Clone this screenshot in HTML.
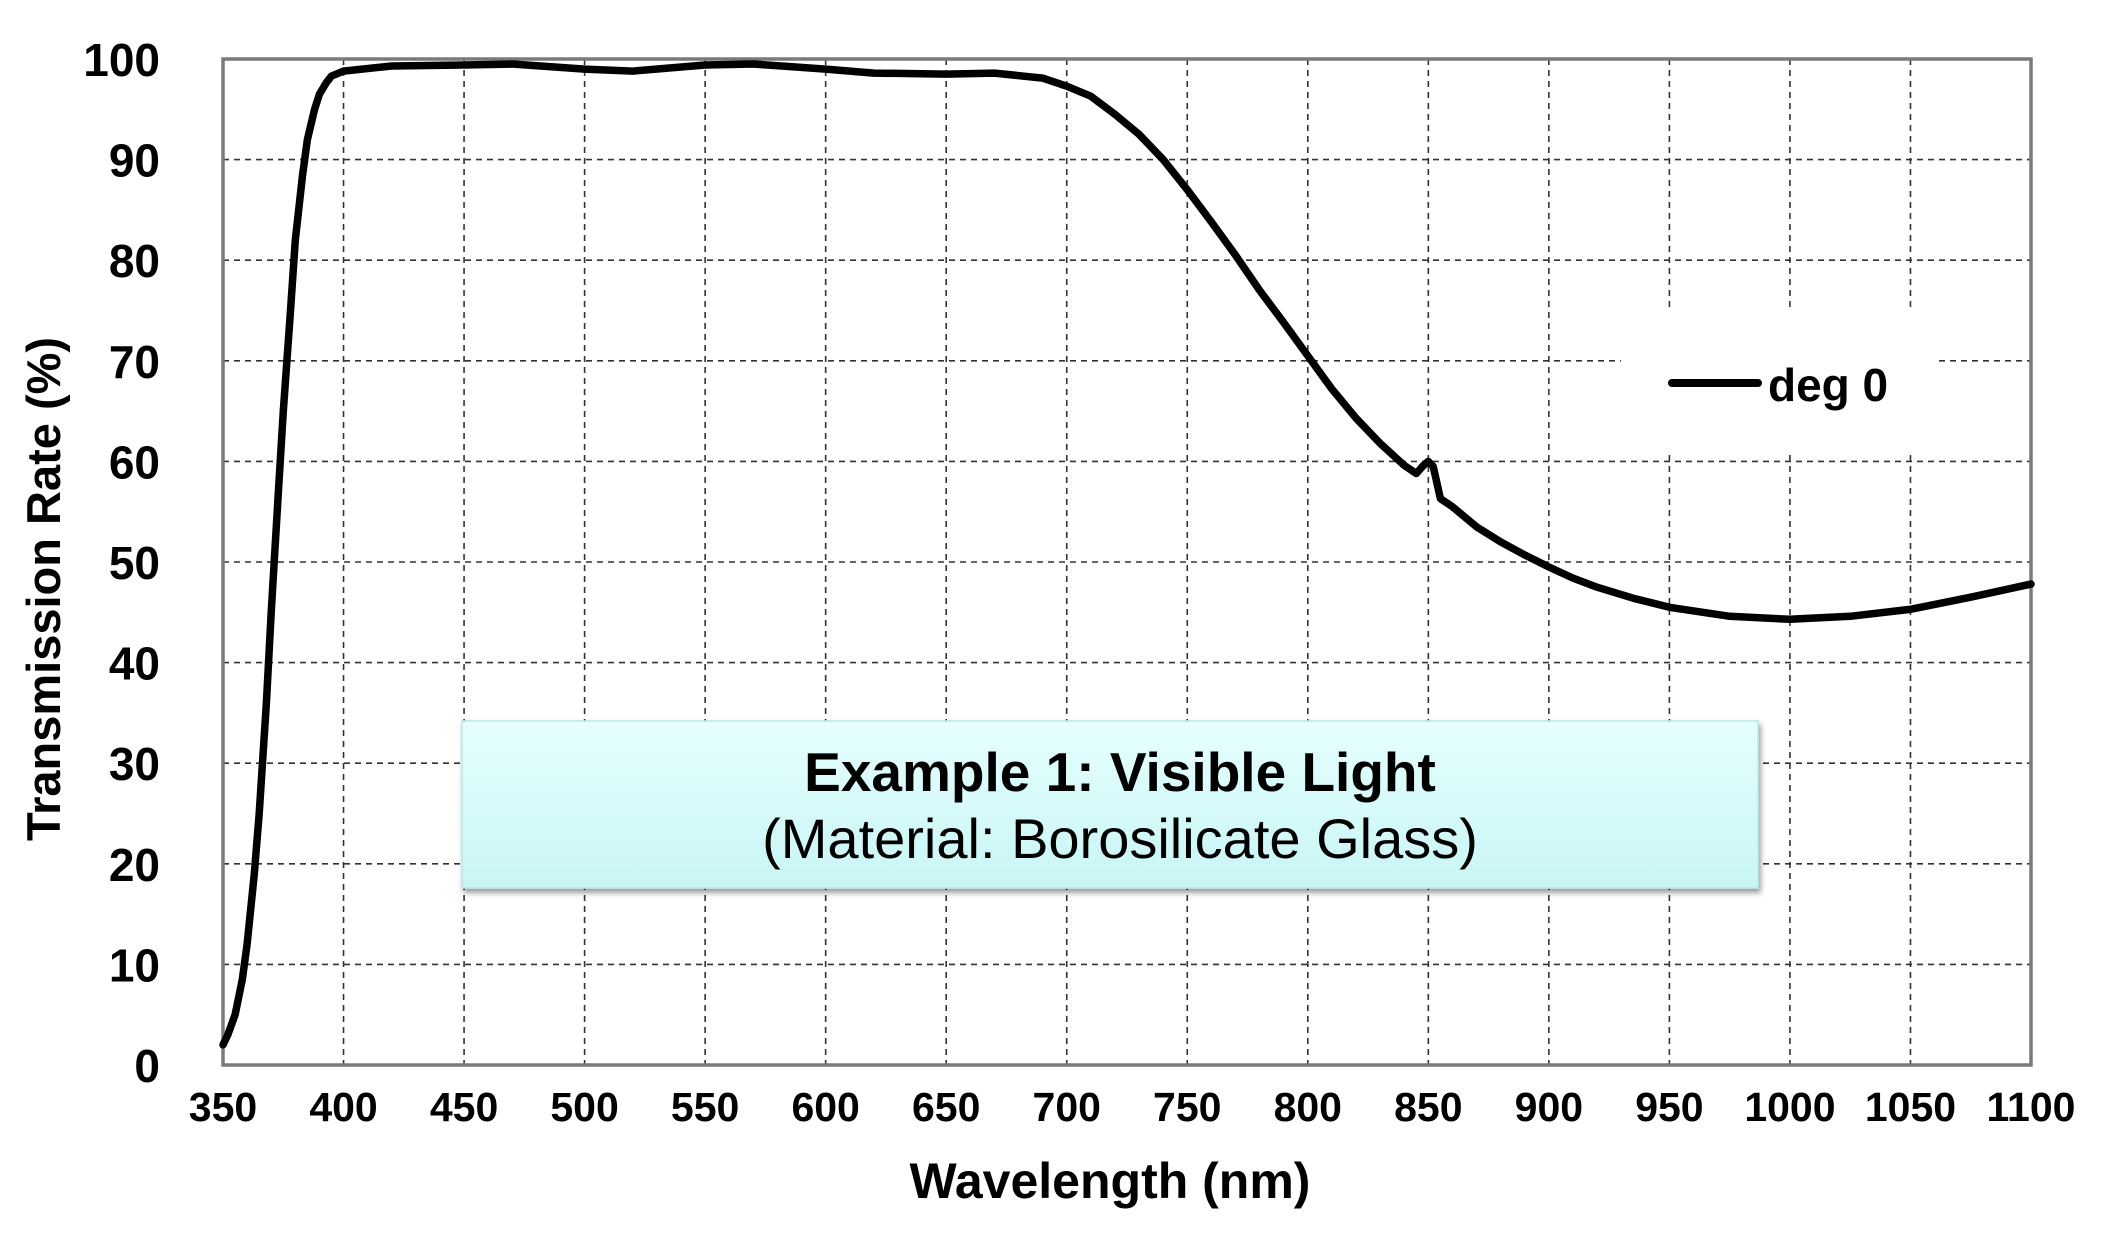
<!DOCTYPE html>
<html><head><meta charset="utf-8"><style>
html,body{margin:0;padding:0;background:#fff;}
svg{display:block;}
text{font-family:"Liberation Sans",Arial,sans-serif;fill:#000;}
</style></head><body>
<svg id="s" width="2124" height="1244" viewBox="0 0 2124 1244" xmlns="http://www.w3.org/2000/svg">
<defs>
<linearGradient id="g" x1="0" y1="0" x2="0" y2="1">
<stop offset="0" stop-color="#e6ffff"/><stop offset="1" stop-color="#c9f5f5"/>
</linearGradient>
<filter id="sh" x="-5%" y="-10%" width="110%" height="130%"><feDropShadow dx="2" dy="4" stdDeviation="3" flood-color="#000" flood-opacity="0.4"/></filter>
</defs>
<rect width="2124" height="1244" fill="#fff"/>
<g id="grid" stroke="#333" stroke-width="1.6" stroke-dasharray="6,5" fill="none"></g>
<rect x="1621" y="308" width="315" height="147" fill="#fff"/>
<rect x="223" y="59" width="1808" height="1006" fill="none" stroke="#7a7a7a" stroke-width="3.5"/>
<polyline id="curve" fill="none" stroke="#000" stroke-width="7.5" stroke-linejoin="round" stroke-linecap="round"/>
<line x1="1672" y1="383" x2="1758" y2="383" stroke="#000" stroke-width="8" stroke-linecap="round"/>
<text x="1768" y="401" font-size="46" font-weight="bold">deg 0</text>
<g id="yl" font-size="46" font-weight="bold" text-anchor="end"></g>
<g id="xl" font-size="41" font-weight="bold" text-anchor="middle"></g>
<text x="1110" y="1198" font-size="50" font-weight="bold" text-anchor="middle">Wavelength (nm)</text>
<text transform="translate(60,589) rotate(-90)" font-size="47" font-weight="bold" text-anchor="middle">Transmission Rate (%)</text>
<rect x="462" y="721" width="1296" height="167" fill="url(#g)" stroke="#b8e6e6" stroke-width="1.5" filter="url(#sh)"/>
<text x="1120" y="791" font-size="55" font-weight="bold" text-anchor="middle">Example 1: Visible Light</text>
<text x="1120" y="858" font-size="56" text-anchor="middle" fill="#222">(Material: Borosilicate Glass)</text>
</svg>
<script>
var L=223,R=2031,T=59,B=1065;
function X(w){return L+(w-350)/750*(R-L);}
function Y(v){return B-v/100*(B-T);}
var ns="http://www.w3.org/2000/svg",g=document.getElementById('grid');
function el(p,t,a){var e=document.createElementNS(ns,t);for(var k in a)e.setAttribute(k,a[k]);p.appendChild(e);return e;}
for(var w=400;w<1100;w+=50)el(g,'line',{x1:X(w),y1:T,x2:X(w),y2:B});
for(var v=10;v<100;v+=10)el(g,'line',{x1:L,y1:Y(v),x2:R,y2:Y(v)});
var yl=document.getElementById('yl');
for(var v=0;v<=100;v+=10){var t=el(yl,'text',{x:160,y:Y(v)+17});t.textContent=v;}
var xl=document.getElementById('xl');
for(var w=350;w<=1100;w+=50){var t=el(xl,'text',{x:X(w),y:1121});t.textContent=w;}
var d=[[350,2],[352,3],[355,5],[358,8.5],[360,12],[363,19],[365,25],[368,36],[370,45],[373,57],[375,65],[378,75],[380,82],[383,88.5],[385,92],[388,95],[390,96.5],[393,97.7],[395,98.3],[400,98.8],[420,99.3],[450,99.4],[470,99.5],[500,99],[520,98.8],[550,99.4],[570,99.5],[600,99],[620,98.6],[650,98.5],[670,98.6],[690,98.1],[700,97.3],[710,96.3],[720,94.5],[730,92.5],[740,90],[750,87],[760,83.8],[770,80.5],[780,77],[790,73.8],[800,70.5],[810,67.2],[820,64.3],[830,61.8],[840,59.6],[845,58.8],[848,59.6],[850,60],[852,59.5],[855,56.3],[860,55.5],[870,53.5],[880,52],[890,50.7],[900,49.5],[910,48.4],[920,47.5],[935,46.4],[950,45.5],[975,44.6],[1000,44.3],[1025,44.6],[1050,45.3],[1075,46.5],[1100,47.8]];
document.getElementById('curve').setAttribute('points',d.map(function(p){return X(p[0]).toFixed(1)+','+Y(p[1]).toFixed(1);}).join(' '));
</script>
</body></html>
